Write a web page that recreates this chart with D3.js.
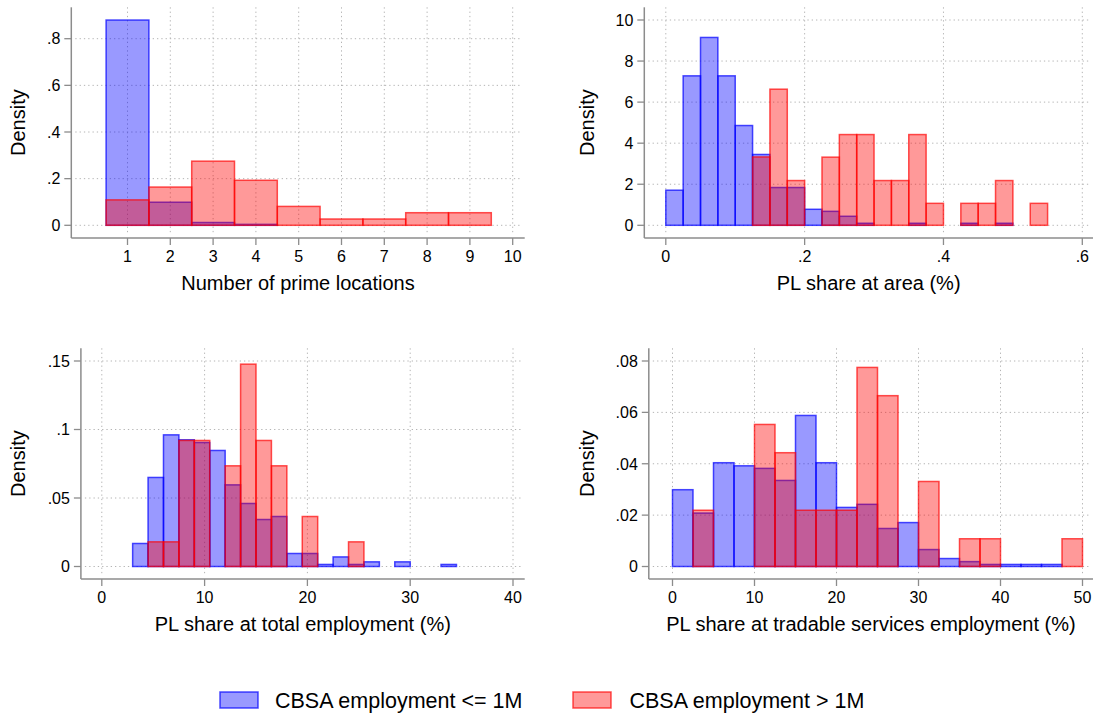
<!DOCTYPE html>
<html><head><meta charset="utf-8">
<script src="https://cdn.jsdelivr.net/npm/d3@7"></script>
<style>
body{margin:0;background:#fff;}
text{font-family:"Liberation Sans",Arial,Helvetica,sans-serif;fill:#000;}
</style></head>
<body><svg id="c" width="1100" height="713"></svg>
<script>
// ---------- DATA ----------
const seriesNames = ["CBSA employment <= 1M", "CBSA employment > 1M"];

// Panel 1: number of prime locations (bins centred on integers, width 1)
const plCenters = [1, 2, 3, 4, 5, 6, 7, 8, 9];
const plSmall = [0.880, 0.099, 0.012, 0.004, 0, 0, 0, 0, 0];
const plLarge = [0.109, 0.164, 0.275, 0.193, 0.081, 0.027, 0.027, 0.054, 0.054];
const plXTicks = [1, 2, 3, 4, 5, 6, 7, 8, 9, 10];
const plXLabels = ["1", "2", "3", "4", "5", "6", "7", "8", "9", "10"];
const plYTicks = [0, 0.2, 0.4, 0.6, 0.8];
const plYLabels = ["0", ".2", ".4", ".6", ".8"];

// Panel 2: PL share at area (bins start 0, width 0.025)
const areaStart = 0, areaWidth = 0.025;
const areaSmall = [1.71, 7.28, 9.15, 7.28, 4.86, 3.45, 1.84, 1.84, 0.78, 0.68, 0.44, 0.10, 0, 0, 0.10, 0, 0, 0.10, 0, 0.10, 0, 0];
const areaLarge = [0, 0, 0, 0, 0, 3.33, 6.63, 2.18, 0, 3.32, 4.42, 4.42, 2.18, 2.18, 4.42, 1.07, 0, 1.07, 1.07, 2.18, 0, 1.07];
const areaXTicks = [0, 0.2, 0.4, 0.6];
const areaXLabels = ["0", ".2", ".4", ".6"];
const areaYTicks = [0, 2, 4, 6, 8, 10];
const areaYLabels = ["0", "2", "4", "6", "8", "10"];

// Panel 3: PL share at total employment (bins start 3, width 1.5)
const totStart = 3, totWidth = 1.5;
const totSmall = [0.0168, 0.065, 0.0961, 0.0925, 0.0905, 0.0847, 0.0596, 0.046, 0.0343, 0.0365, 0.0095, 0.0095, 0.0015, 0.007, 0.0015, 0.0034, 0, 0.0034, 0, 0, 0.0015];
const totLarge = [0, 0.018, 0.018, 0.092, 0.092, 0, 0.0735, 0.1477, 0.092, 0.0735, 0, 0.0365, 0, 0, 0.018, 0, 0, 0, 0, 0, 0];
const totXTicks = [0, 10, 20, 30, 40];
const totXLabels = ["0", "10", "20", "30", "40"];
const totYTicks = [0, 0.05, 0.1, 0.15];
const totYLabels = ["0", ".05", ".1", ".15"];

// Panel 4: PL share at tradable services employment (bins start 0, width 2.5)
const trStart = 0, trWidth = 2.5;
const trSmall = [0.0299, 0.0208, 0.0404, 0.0392, 0.0382, 0.0335, 0.0588, 0.0404, 0.023, 0.0242, 0.0148, 0.0171, 0.0066, 0.0031, 0.0019, 0.0008, 0.0008, 0.0008, 0.0008, 0];
const trLarge = [0, 0.0219, 0, 0, 0.0553, 0.0443, 0.0219, 0.0219, 0.0219, 0.0775, 0.0665, 0, 0.0331, 0, 0.0108, 0.0108, 0, 0, 0, 0.0108];
const trXTicks = [0, 10, 20, 30, 40, 50];
const trXLabels = ["0", "10", "20", "30", "40", "50"];
const trYTicks = [0, 0.02, 0.04, 0.06, 0.08];
const trYLabels = ["0", ".02", ".04", ".06", ".08"];

const xTitles = ["Number of prime locations", "PL share at area (%)", "PL share at total employment (%)", "PL share at tradable services employment (%)"];
const yTitle = "Density";

// ---------- helpers ----------
function binsFromCenters(centers, vals) {
  return vals.map((v, i) => ({x0: centers[i] - 0.5, x1: centers[i] + 0.5, v}));
}
function binsFromStart(start, w, vals) {
  return vals.map((v, i) => ({x0: start + i * w, x1: start + (i + 1) * w, v}));
}

const panels = [
  {box: {l: 71.3, r: 524.7, t: 7.3, b: 238}, yTitleX: 18,
   xDom: [1, 10], xRng: [127.5, 512.7], yDom: [0, 0.8], yRng: [225.3, 38.7],
   xt: plXTicks, xl: plXLabels, yt: plYTicks, yl: plYLabels,
   small: binsFromCenters(plCenters, plSmall), large: binsFromCenters(plCenters, plLarge), title: xTitles[0]},
  {box: {l: 644.3, r: 1093, t: 7.3, b: 238}, yTitleX: 587,
   xDom: [0, 0.6], xRng: [665.8, 1082.3], yDom: [0, 10], yRng: [225.3, 20],
   xt: areaXTicks, xl: areaXLabels, yt: areaYTicks, yl: areaYLabels,
   small: binsFromStart(areaStart, areaWidth, areaSmall), large: binsFromStart(areaStart, areaWidth, areaLarge), title: xTitles[1]},
  {box: {l: 80.9, r: 524.7, t: 348.3, b: 579}, yTitleX: 18,
   xDom: [0, 40], xRng: [101.8, 513], yDom: [0, 0.15], yRng: [566.5, 361],
   xt: totXTicks, xl: totXLabels, yt: totYTicks, yl: totYLabels,
   small: binsFromStart(totStart, totWidth, totSmall), large: binsFromStart(totStart, totWidth, totLarge), title: xTitles[2]},
  {box: {l: 648.8, r: 1093, t: 348.3, b: 579}, yTitleX: 587,
   xDom: [0, 50], xRng: [672.5, 1082.5], yDom: [0, 0.08], yRng: [566.5, 361],
   xt: trXTicks, xl: trXLabels, yt: trYTicks, yl: trYLabels,
   small: binsFromStart(trStart, trWidth, trSmall), large: binsFromStart(trStart, trWidth, trLarge), title: xTitles[3]}
];

const colors = [
  {fill: "rgba(0,0,255,0.4)", stroke: "rgba(0,0,255,0.7)"},
  {fill: "rgba(255,0,0,0.4)", stroke: "rgba(255,0,0,0.68)"}
];
const axisColor = "#8c8c8c";
const gridColor = "#b4b4b4";

const svg = d3.select("#c");

panels.forEach(p => {
  const g = svg.append("g");
  const x = d3.scaleLinear().domain(p.xDom).range(p.xRng);
  const y = d3.scaleLinear().domain(p.yDom).range(p.yRng);
  const B = p.box;

  // grid
  g.selectAll(".hg").data(p.yt).join("line")
    .attr("x1", B.l + 4).attr("x2", B.r - 4)
    .attr("y1", d => y(d)).attr("y2", d => y(d))
    .attr("stroke", gridColor).attr("stroke-width", 1).attr("stroke-dasharray", "1.3,3");
  g.selectAll(".vg").data(p.xt).join("line")
    .attr("x1", d => x(d)).attr("x2", d => x(d))
    .attr("y1", B.t).attr("y2", B.b - 5)
    .attr("stroke", gridColor).attr("stroke-width", 1).attr("stroke-dasharray", "1.3,3");

  // bars
  [p.small, p.large].forEach((bins, si) => {
    g.selectAll(null).data(bins.filter(d => d.v > 0)).join("rect")
      .attr("x", d => x(d.x0)).attr("width", d => x(d.x1) - x(d.x0))
      .attr("y", d => y(d.v)).attr("height", d => y(0) - y(d.v))
      .attr("fill", colors[si].fill).attr("stroke", colors[si].stroke).attr("stroke-width", 1.5);
  });

  // axes
  const ax = svg.append("g");
  ax.append("line").attr("x1", B.l).attr("x2", B.l).attr("y1", B.t).attr("y2", B.b)
    .attr("stroke", axisColor).attr("stroke-width", 1.5);
  ax.append("line").attr("x1", B.l).attr("x2", B.r).attr("y1", B.b).attr("y2", B.b)
    .attr("stroke", axisColor).attr("stroke-width", 1.5);
  ax.selectAll(".yt").data(p.yt).join("line")
    .attr("x1", B.l - 7).attr("x2", B.l).attr("y1", d => y(d)).attr("y2", d => y(d))
    .attr("stroke", axisColor).attr("stroke-width", 1.3);
  ax.selectAll(".xt").data(p.xt).join("line")
    .attr("x1", d => x(d)).attr("x2", d => x(d)).attr("y1", B.b).attr("y2", B.b + 7)
    .attr("stroke", axisColor).attr("stroke-width", 1.3);
  ax.selectAll(".ytl").data(p.yt).join("text")
    .attr("x", B.l - 11).attr("y", d => y(d)).attr("dy", "0.36em")
    .attr("text-anchor", "end").attr("font-size", 16).text((d, i) => p.yl[i]);
  ax.selectAll(".xtl").data(p.xt).join("text")
    .attr("x", d => x(d)).attr("y", B.b + 24)
    .attr("text-anchor", "middle").attr("font-size", 16).text((d, i) => p.xl[i]);
  ax.append("text").attr("x", (B.l + B.r) / 2).attr("y", B.b + 52)
    .attr("text-anchor", "middle").attr("font-size", 20).text(p.title);
  ax.append("text")
    .attr("transform", `translate(${p.yTitleX},${(B.t + B.b) / 2}) rotate(-90)`)
    .attr("dy", "0.36em").attr("text-anchor", "middle").attr("font-size", 20).text(yTitle);
});

// legend
const leg = svg.append("g");
const legItems = [{sx: 220, tx: 275}, {sx: 573, tx: 629.5}];
legItems.forEach((it, i) => {
  leg.append("rect").attr("x", it.sx).attr("y", 692).attr("width", 38).attr("height", 16)
    .attr("fill", colors[i].fill).attr("stroke", colors[i].stroke).attr("stroke-width", 1.5);
  leg.append("text").attr("x", it.tx).attr("y", 700).attr("dy", "0.36em")
    .attr("font-size", 21.5).text(seriesNames[i]);
});
</script>
</body></html>
